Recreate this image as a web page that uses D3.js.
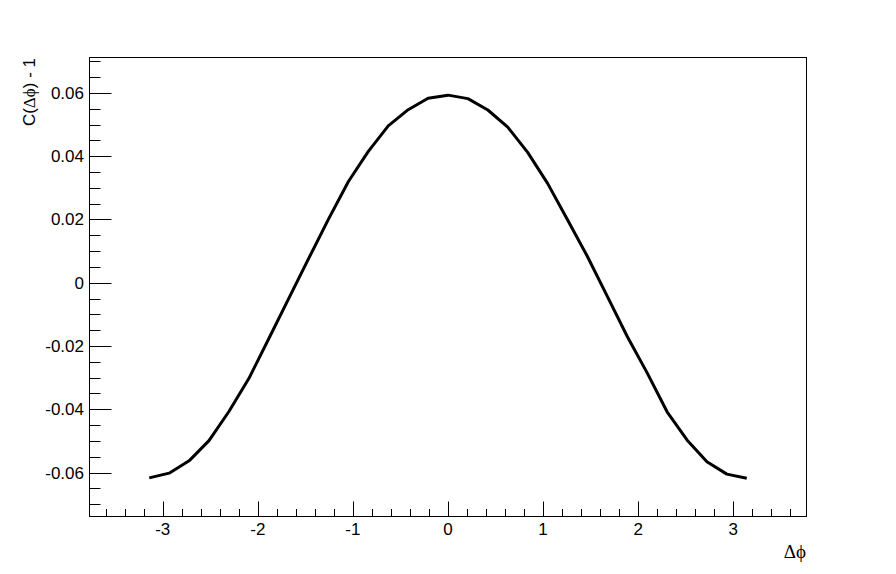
<!DOCTYPE html>
<html>
<head>
<meta charset="utf-8">
<script src="https://cdn.jsdelivr.net/npm/d3@7"></script>
<style>
  html, body { margin: 0; padding: 0; background: #fff; }
  svg { display: block; }
  text { font-family: "Liberation Sans", Arial, Helvetica, sans-serif; }
</style>
</head>
<body>
<svg id="chart" width="896" height="574"></svg>
<script>
// Δφ values (bin centres from -π to π, 31 points)
const dphi = [-3.1416, -2.9322, -2.7227, -2.5133, -2.3038, -2.0944, -1.8850, -1.6755,
  -1.4661, -1.2566, -1.0472, -0.8378, -0.6283, -0.4189, -0.2094, 0.0,
  0.2094, 0.4189, 0.6283, 0.8378, 1.0472, 1.2566, 1.4661, 1.6755,
  1.8850, 2.0944, 2.3038, 2.5133, 2.7227, 2.9322, 3.1416];
// C(Δφ) - 1 values
const cval = [-0.0617, -0.0602, -0.0563, -0.0499, -0.0407, -0.0303, -0.0177, -0.0050,
  0.0076, 0.0201, 0.0320, 0.0415, 0.0496, 0.0547, 0.0583, 0.0593,
  0.0582, 0.0546, 0.0492, 0.0412, 0.0314, 0.0199, 0.0083, -0.0043,
  -0.0170, -0.0285, -0.0408, -0.0497, -0.0566, -0.0605, -0.0618];
const xMajorTicks = [-3, -2, -1, 0, 1, 2, 3];
const yMajorTicks = [-0.06, -0.04, -0.02, 0, 0.02, 0.04, 0.06];
const xDomain = [-1.2 * Math.PI, 1.2 * Math.PI];
const yDomain = [-0.0739, 0.0712];
const xTitle = "Δϕ";
const yTitlePrefix = "C(";
const yTitleSym = "Δϕ";
const yTitleSuffix = ") - 1";

const L = 89.5, R = 806.5, T = 57.5, B = 516.5;
const svg = d3.select("#chart");
const x = d3.scaleLinear().domain(xDomain).range([L, R]);
const y = d3.scaleLinear().domain(yDomain).range([B, T]);

// frame
svg.append("rect").attr("x", L).attr("y", T).attr("width", R - L).attr("height", B - T)
  .attr("fill", "none").attr("stroke", "#000").attr("stroke-width", 1);

// x minor ticks
const xMinor = d3.range(-3.6, 3.7, 0.2).map(v => Math.round(v * 10) / 10)
  .filter(v => v > xDomain[0] && v < xDomain[1] && !xMajorTicks.some(m => Math.abs(m - v) < 1e-6));
const gx = svg.append("g");
gx.selectAll("line.minor").data(xMinor).join("line")
  .attr("x1", d => Math.round(x(d)) + 0.5).attr("x2", d => Math.round(x(d)) + 0.5)
  .attr("y1", B).attr("y2", B - 7.5).attr("stroke", "#000");
gx.selectAll("line.major").data(xMajorTicks).join("line")
  .attr("x1", d => Math.round(x(d)) + 0.5).attr("x2", d => Math.round(x(d)) + 0.5)
  .attr("y1", B).attr("y2", B - 15).attr("stroke", "#000");
gx.selectAll("text").data(xMajorTicks).join("text")
  .attr("x", d => x(d)).attr("y", 535)
  .attr("text-anchor", "middle").attr("font-size", 17)
  .text(d => d3.format("")(d).replace("−", "-"));

// y minor ticks
const yMinor = d3.range(-0.070, 0.0701, 0.005).map(v => Math.round(v * 1000) / 1000)
  .filter(v => v > yDomain[0] && v < yDomain[1] && !yMajorTicks.some(m => Math.abs(m - v) < 1e-6));
const gy = svg.append("g");
gy.selectAll("line.minor").data(yMinor).join("line")
  .attr("x1", L).attr("x2", L + 11)
  .attr("y1", d => Math.round(y(d)) + 0.5).attr("y2", d => Math.round(y(d)) + 0.5)
  .attr("stroke", "#000");
gy.selectAll("line.major").data(yMajorTicks).join("line")
  .attr("x1", L).attr("x2", L + 22)
  .attr("y1", d => Math.round(y(d)) + 0.5).attr("y2", d => Math.round(y(d)) + 0.5)
  .attr("stroke", "#000");
gy.selectAll("text").data(yMajorTicks).join("text")
  .attr("x", 84).attr("y", d => y(d) + 6)
  .attr("text-anchor", "end").attr("font-size", 17)
  .text(d => d === 0 ? "0" : d3.format(".2f")(d).replace("−", "-"));

// curve
const line = d3.line().x((d, i) => x(dphi[i])).y(d => y(d));
svg.append("path").datum(cval)
  .attr("d", line)
  .attr("fill", "none").attr("stroke", "#000").attr("stroke-width", 3)
  .attr("stroke-linejoin", "round");

// axis titles
svg.append("text")
  .attr("x", 806).attr("y", 558)
  .attr("text-anchor", "end").attr("font-size", 19)
  .style("font-family", "'Liberation Serif', 'Times New Roman', serif")
  .text(xTitle);

const yt = svg.append("text")
  .attr("transform", "translate(35,58) rotate(-90)")
  .attr("text-anchor", "end").attr("font-size", 17);
yt.append("tspan").text(yTitlePrefix);
yt.append("tspan").style("font-family", "'Liberation Serif', 'Times New Roman', serif").text(yTitleSym);
yt.append("tspan").text(yTitleSuffix);
</script>
</body>
</html>
